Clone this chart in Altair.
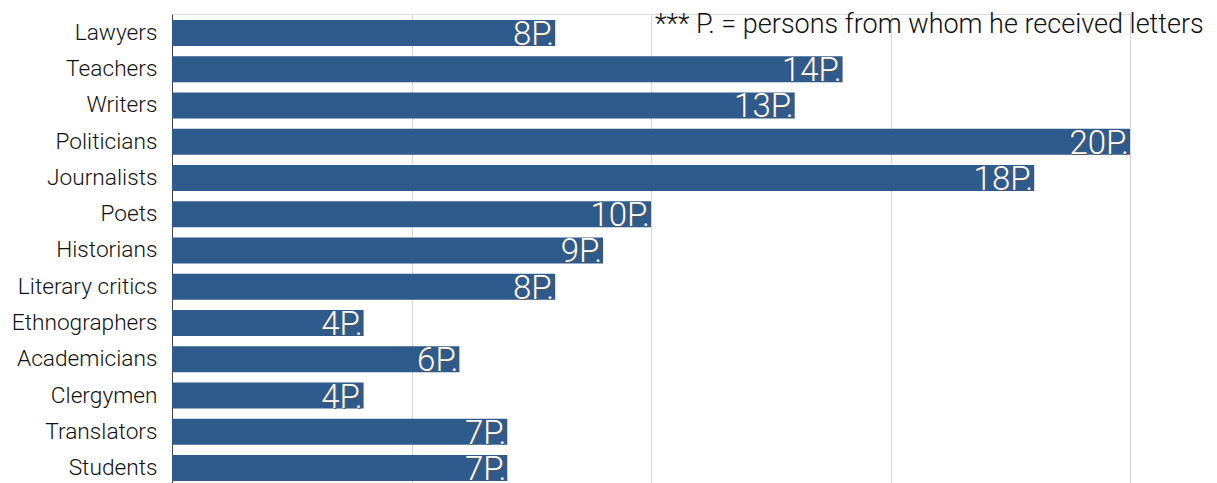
import altair as alt
import pandas as pd

categories = ["Lawyers", "Teachers", "Writers", "Politicians", "Journalists", "Poets",
              "Historians", "Literary critics", "Ethnographers", "Academicians",
              "Clergymen", "Translators", "Students"]
values = [8, 14, 13, 20, 18, 10, 9, 8, 4, 6, 4, 7, 7]
labels = [f"{v}P." for v in values]
note = "*** P. = persons from whom he received letters"

df = pd.DataFrame({"cat": categories, "val": values, "lab": labels})

FONT = "Helvetica Neue, Roboto, Liberation Sans, sans-serif"

y = alt.Y("cat:N", sort=categories, title=None,
          scale=alt.Scale(paddingInner=0.283, paddingOuter=0.11, align=0.75),
          axis=alt.Axis(ticks=False, labelPadding=15, labelFontSize=22.7,
                        labelFont=FONT, labelFontWeight=300, labelColor="#111",
                        domainColor="#444", domainWidth=1, grid=False, labelLimit=300))
x = alt.X("val:Q", title=None,
          scale=alt.Scale(domain=[0, 20], nice=False),
          axis=alt.Axis(values=[0, 5, 10, 15, 20], labels=False, ticks=False, domain=False,
                        grid=True, gridColor="#d4d4d4", gridWidth=1))

base = alt.Chart(df)
bars = base.mark_bar(color="#2f5a8c").encode(x=x, y=y)
shadow = base.mark_text(align="right", baseline="alphabetic", dx=0, dy=13, fontSize=33,
                        font=FONT, fontWeight=300, color="#555").encode(
    x="val:Q", y=alt.Y("cat:N", sort=categories), text="lab:N")
txt = base.mark_text(align="right", baseline="alphabetic", dx=-1, dy=12, fontSize=33,
                     font=FONT, fontWeight=300, color="white").encode(
    x="val:Q", y=alt.Y("cat:N", sort=categories), text="lab:N")
ann = alt.Chart(pd.DataFrame({"t": [note]})).mark_text(
    align="left", baseline="alphabetic", fontSize=27, font=FONT, fontWeight=300,
    color="#111").encode(x=alt.value(483), y=alt.value(19), text="t:N")

chart = alt.layer(bars, shadow, txt, ann).properties(
    width=958, height=469,
    autosize=alt.AutoSizeParams(type="none"),
    padding={"left": 172, "top": 14, "right": 87, "bottom": 0},
).configure_view(stroke=None).configure(background="white")

chart.save("out.html", embed_options={"renderer": "svg", "actions": False})
